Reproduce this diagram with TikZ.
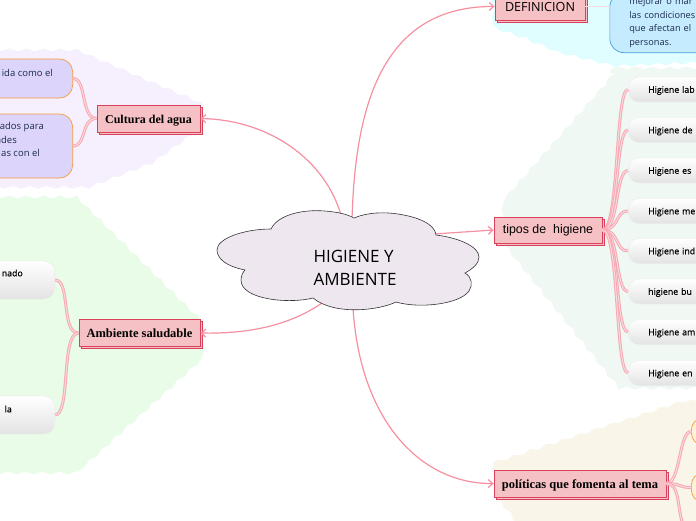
\documentclass[tikz,border=0pt]{standalone}
\usepackage{fontspec}
\usepackage{xcolor}
\usetikzlibrary{arrows.meta}
\usetikzlibrary{decorations.pathmorphing}
\usetikzlibrary{shadows}
\setmainfont{Open Sans}
\newfontfamily\topicserif{Liberation Serif}
\newfontfamily\topicsans{Liberation Sans}
\newfontfamily\softfont[FakeBold=.6]{Open Sans}
\definecolor{topicfill}{HTML}{F6C1C4}
\definecolor{topicline}{HTML}{D8405C}
\definecolor{arrowpink}{HTML}{F68FA0}
\definecolor{branchpink}{HTML}{F6A9B4}
\definecolor{branchlight}{HTML}{FBD9DD}
\definecolor{cloudfill}{HTML}{EEE7F0}
\definecolor{leafline}{HTML}{F59B3C}
\definecolor{inkblue}{HTML}{1B2A4E}
\definecolor{blobpurple}{HTML}{F6EFFD}
\definecolor{blobgreen}{HTML}{E8FCE7}
\definecolor{blobcyan}{HTML}{E0FDFF}
\definecolor{blobmint}{HTML}{EFF8F3}
\definecolor{blobbeige}{HTML}{F9F5E8}
\definecolor{purplefill}{HTML}{DDD4FB}
\definecolor{bluefill}{HTML}{C5EBFF}
\definecolor{blueline}{HTML}{4A9FDC}
\definecolor{orangefill}{HTML}{FDF1D8}
\tikzset{
  blob/.style={fill=#1,decorate,decoration={snake,segment length=17pt,amplitude=1.4pt}},
  topicbox/.style={draw=topicline,fill=topicfill,line width=.9pt,inner sep=0pt,
    copy shadow={shadow xshift=2.4pt,shadow yshift=-2.4pt}},
  serifbox/.style={topicbox,minimum height=27,text height=10pt,text depth=1pt,
    font=\topicserif\bfseries\fontsize{#1}{14}\selectfont},
  link/.style={-{Straight Barb[length=4.5pt,width=8pt]},color=arrowpink,line width=1.2pt},
  branch/.style={draw=branchpink,double=branchlight,double distance=1pt,line width=1pt},
  softbox/.style={draw=black!7,top color=white,bottom color=black!11,rounded corners=11pt,
    inner sep=0pt,text height=8pt,text depth=1.5pt,font=\softfont\fontsize{8.8}{10}\selectfont},
  purplebox/.style={draw=leafline,fill=purplefill,line width=.7pt,rounded corners=13pt,inner sep=0pt},
  orangebox/.style={draw=leafline,fill=orangefill,line width=.7pt,rounded corners=12pt,minimum width=40,anchor=west},
  word/.style={inner sep=0pt,anchor=east,text=inkblue,font=\fontsize{9.5}{10}\selectfont},
  softword/.style={inner sep=0pt,anchor=east,font=\softfont\fontsize{8.8}{10}\selectfont},
}
\begin{document}
\begin{tikzpicture}[x=1pt,y=-1pt]
  \useasboundingbox (0,0) rectangle (696,520);

  \path[blob=blobpurple] (-30,50) -- (70,50) -- (140,80) -- (199,105) -- (199,130) -- (150,165) -- (85,190) -- (-30,190) -- cycle;
  \path[blob=blobgreen] (-30,197) -- (75,197) -- (199,320) -- (199,355) -- (70,472) -- (-30,472) -- cycle;
  \path[blob=blobcyan] (493,-30) -- (493,22) -- (525,33) -- (560,48) -- (610,60) -- (730,55) -- (730,-30) -- cycle;
  \path[blob=blobmint] (613,68) -- (730,68) -- (730,395) -- (613,395) -- (513,270) -- (493,245) -- (493,207) -- (587,100) -- cycle;
  \path[blob=blobbeige] (493,463) -- (680,402) -- (730,404) -- (730,550) -- (530,550) -- (493,500) -- cycle;

  \node[serifbox=12,minimum width=103] (cultura) at (148.5,118.5) {Cultura del agua};
  \node[serifbox=12.5,minimum width=121] (ambiente) at (139.5,333) {Ambiente saludable};
  \node[topicbox,minimum width=90,minimum height=28,font=\fontsize{12.6}{14}\selectfont] (definicion) at (540,6.5) {DEFINICION};
  \node[topicbox,minimum width=108,minimum height=26,font=\topicsans\fontsize{12.4}{14}\selectfont] (tipos) at (548,230) {tipos de\ \ higiene};
  \node[serifbox=12.5,minimum width=172] (politicas) at (580,483.5) {políticas que fomenta al tema};

  \node[purplebox,minimum width=133,minimum height=39,anchor=east] (agua1) at (73,78.5) {};
  \node[purplebox,minimum width=133,minimum height=64,anchor=east] (agua2) at (73,146) {};
  \node[word] (agua1a) at (53,73) {ida como el};
  \node[word] (agua2a) at (44,127) {ados para};
  \node[word] (agua2b) at (17,140) {ades};
  \node[word] (agua2c) at (40,153) {as con el};

  \node[softbox,minimum width=115,minimum height=38,anchor=east] (sano1) at (55,280) {};
  \node[softbox,minimum width=115,minimum height=38,anchor=east] (sano2) at (55,415) {};
  \node[softword] (sano1a) at (23,273) {nado};
  \node[softword] (sano2a) at (12,409) {la};

  \node[draw=blueline,fill=bluefill,line width=.7pt,rounded corners=14pt,anchor=south west,
    inner xsep=19.5pt,inner ysep=5pt,text width=100pt,align=left,text=inkblue,
    font=\fontsize{9.2}{13.6}\selectfont] (objetivo) at (609.5,53) {mejorar o mar\\las condiciones\\que afectan el\\personas.};

  \foreach \name/\ypos/\txt in {lab/89.5/Higiene lab,de/130/Higiene de,es/170.5/Higiene es,me/211/Higiene me,ind/251/Higiene ind,bu/291.5/higiene bu,am/332/Higiene am,en/373/Higiene en}
    \node[softbox,minimum height=25,anchor=west,text width=80pt,align=left,inner xsep=20pt] (\name) at (628,\ypos) {\txt};

  \node[orangebox,minimum height=27] (pol1) at (691,431.5) {};
  \node[orangebox,minimum height=29] (pol2) at (691,487.5) {};
  \coordinate (pol3) at (683,524);

  \foreach \n in {agua1,agua2}
    \draw[branch] (cultura.west) .. controls +(-16,0) and +(14,0) .. (\n.east);
  \foreach \n in {sano1,sano2}
    \draw[branch] (ambiente.west) .. controls +(-18,0) and +(16,0) .. (\n.east);
  \foreach \n in {lab,de,es,me,ind,bu,am,en}
    \draw[branch] (tipos.east) .. controls +(17,0) and +(-13,0) .. (\n.west);
  \foreach \n in {pol1,pol2}
    \draw[branch] (politicas.east) .. controls +(14,0) and +(-12,0) .. (\n.west);
  \draw[branch] (politicas.east) .. controls +(14,0) and +(-6,-14) .. (pol3);
  \draw[color=branchlight,line width=1.8pt] (definicion.east) -- (objetivo.west |- definicion.east);

  \coordinate (cloudtl) at (341,215);
  \coordinate (cloudtr) at (352,220);
  \coordinate (cloudr) at (434,234);
  \coordinate (cloudbl) at (322,303);
  \coordinate (cloudb) at (353,308);
  \draw[link] (cloudtl) .. controls (325,160) and (270,120) .. (cultura.east);
  \draw[link] (cloudtr) .. controls (355,110) and (380,6) .. (definicion.west);
  \draw[link] (cloudr) -- (tipos.west);
  \draw[link] (cloudbl) .. controls (290,325) and (250,334) .. (ambiente.east);
  \draw[link] (cloudb) .. controls (360,420) and (420,484) .. (politicas.west);

  \draw[fill=cloudfill,draw=black!80,line width=.6pt] (271,229)
    .. controls (277,216) and (300,209) .. (325,211)
    .. controls (337,212) and (347,214) .. (354,218)
    .. controls (368,212) and (385,212) .. (398,214)
    .. controls (418,217) and (435,224) .. (436,235)
    .. controls (460,238) and (479,247) .. (479,257)
    .. controls (479,264) and (472,269) .. (465,273)
    .. controls (472,277) and (473,285) .. (469,291)
    .. controls (460,304) and (420,309) .. (396,302)
    .. controls (380,310) and (335,316) .. (313,298)
    .. controls (290,304) and (241,300) .. (241,280)
    .. controls (241,276) and (243,272) .. (245,270)
    .. controls (225,266) and (217,258) .. (217,250)
    .. controls (217,238) and (245,229) .. (271,229) -- cycle;
  \node[align=left,text=black,font=\fontsize{17}{22.6}\selectfont] (hub) at (355,268) {HIGIENE Y\\AMBIENTE};
\end{tikzpicture}
\end{document}
